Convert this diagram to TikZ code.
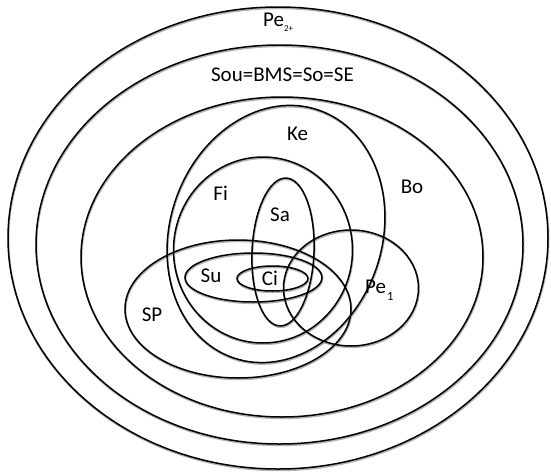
\documentclass[tikz,border=0pt]{standalone}
\usepackage{fontspec}
\setmainfont{Carlito}
\begin{document}
\begin{tikzpicture}[x=1pt,y=-1pt,
  venn/.style={line width=1.5pt, draw=black},
  shadowline/.style={line width=1.8pt, draw=black!30},
  lbl/.style={font=\fontsize{21}{21}\selectfont, anchor=base, inner sep=0pt}]
\useasboundingbox (0,0) rectangle (551,471);
\fill[white] (0,0) rectangle (551,471);
\def\ellipselist{278/238/270/231/0, 279.5/244.5/243.5/199.5/0, 282/257/201/160/0,
  276/234/106/131/-19, 263/250/89.5/93/0, 283/252/31/74/-2.5,
  238/309/113/69/0, 351/288/67.5/58/0, 253.5/277.5/68.5/24.5/0, 272.5/278.5/35.5/12.5/0}
\foreach \cx/\cy/\rx/\ry/\rot in \ellipselist {
  \draw[shadowline, shift={(0.5,1.3)}, rotate around={\rot:(\cx,\cy)}] (\cx,\cy) ellipse [x radius=\rx pt, y radius=\ry pt];
}
\foreach \cx/\cy/\rx/\ry/\rot in \ellipselist {
  \draw[venn, rotate around={\rot:(\cx,\cy)}] (\cx,\cy) ellipse [x radius=\rx pt, y radius=\ry pt];
}
\node[lbl, anchor=base west] (pe2) at (263,26) {Pe\raisebox{-5.5pt}{\fontsize{9}{9}\selectfont 2+}};
\node[lbl] (sou) at (282.5,81.5) {Sou=BMS=So=SE};
\node[lbl] (ke) at (297.5,140) {Ke};
\node[lbl] (bo) at (412,193) {Bo};
\node[lbl] (fi) at (220.7,200) {Fi};
\node[lbl] (sa) at (280,221.7) {Sa};
\node[lbl] (su) at (211,282) {Su};
\node[lbl] (ci) at (270,285) {Ci};
\node[lbl] (sp) at (152,321.5) {SP};
\node[lbl, anchor=base west] (pe1) at (365,293.5) {Pe\kern1pt\raisebox{-6.5pt}{\fontsize{12.5}{12.5}\selectfont 1}};
\end{tikzpicture}
\end{document}
